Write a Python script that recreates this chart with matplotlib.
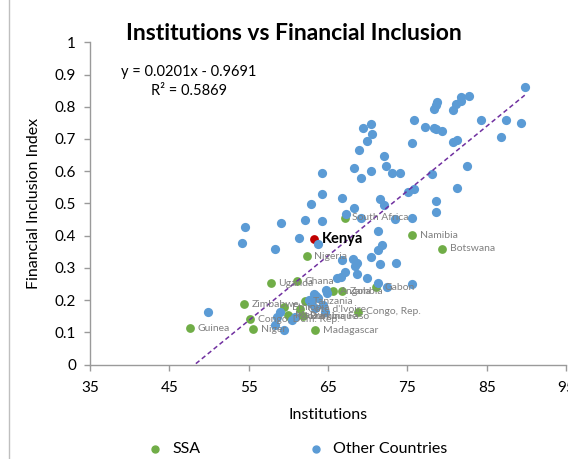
import matplotlib
matplotlib.use('Agg')
import matplotlib.pyplot as plt
from matplotlib.lines import Line2D

plt.rcParams['font.family'] = ['Lato', 'DejaVu Sans']

# ---------------- data ----------------
ssa_names = ['South Africa', 'Namibia', 'Botswana', 'Nigeria', 'Uganda', 'Ghana',
             'Angola', 'Zambia', 'Gabon', 'Zimbabwe', 'Tanzania', 'Guinea',
             'Congo, Dem. Rep.', 'Niger', 'Madagascar', 'Congo, Rep.', 'Ethiopia',
             "Cote d'Ivoire", 'Burkina Faso', 'Mozambique', 'Malawi']
ssa_x = [67.1, 75.6, 79.4, 62.3, 57.8, 61.1, 65.6, 66.8, 71.1, 54.4, 62.1, 47.6,
         55.2, 55.6, 63.4, 68.8, 59.5, 61.5, 61.8, 60.2, 59.9]
ssa_y = [0.456, 0.401, 0.359, 0.336, 0.252, 0.259, 0.228, 0.228, 0.239, 0.187, 0.197,
         0.112, 0.140, 0.110, 0.107, 0.164, 0.178, 0.172, 0.149, 0.148, 0.153]

kenya_name = 'Kenya'
kenya_x = [63.2]
kenya_y = [0.389]

other_x = [89.8, 82.8, 81.8, 81.8, 81.1, 80.8, 78.8, 78.6, 78.3, 75.8, 77.2, 78.3,
           78.6, 79.4, 84.3, 87.4, 89.3, 86.8, 75.6, 80.8, 81.3, 72.1, 72.3, 73.1,
           74.1, 82.5, 78.1, 70.4, 69.4, 70.6, 69.9, 68.9, 68.3, 70.4, 69.1, 64.2,
           64.2, 62.8, 66.8, 68.3, 71.6, 72.1, 67.3, 62.1, 64.2, 59.1, 54.6, 69.1,
           73.4, 75.6, 81.3, 75.1, 75.8, 78.6, 78.6, 71.3, 54.2, 58.3, 61.4, 63.7,
           71.8, 71.3, 66.8, 68.2, 68.7, 68.4, 70.4, 71.6, 73.6, 67.2, 68.6, 69.9,
           66.1, 66.6, 71.3, 72.4, 75.6, 64.7, 64.9, 63.2, 63.5, 63.8, 62.6, 62.8,
           64.4, 63.4, 59.0, 58.6, 60.9, 60.4, 64.6, 58.3, 59.5, 49.9]
other_y = [0.860, 0.832, 0.829, 0.818, 0.810, 0.791, 0.814, 0.804, 0.793, 0.758,
           0.736, 0.733, 0.732, 0.726, 0.758, 0.758, 0.751, 0.705, 0.689, 0.691,
           0.696, 0.647, 0.615, 0.595, 0.595, 0.615, 0.590, 0.746, 0.735, 0.716,
           0.695, 0.666, 0.610, 0.602, 0.580, 0.595, 0.530, 0.499, 0.517, 0.487,
           0.514, 0.494, 0.467, 0.447, 0.444, 0.439, 0.427, 0.454, 0.452, 0.454,
           0.548, 0.536, 0.544, 0.507, 0.474, 0.413, 0.378, 0.359, 0.394, 0.373,
           0.371, 0.354, 0.323, 0.328, 0.316, 0.305, 0.333, 0.311, 0.316, 0.286,
           0.281, 0.269, 0.268, 0.271, 0.252, 0.242, 0.250, 0.231, 0.221, 0.220,
           0.212, 0.205, 0.200, 0.190, 0.185, 0.174, 0.163, 0.148, 0.148, 0.138,
           0.162, 0.124, 0.107, 0.162]

trend_slope = 0.0201
trend_intercept = -0.9691
r_squared = 0.5869

x_ticks = [35, 45, 55, 65, 75, 85, 95]
y_ticks = [0, 0.1, 0.2, 0.3, 0.4, 0.5, 0.6, 0.7, 0.8, 0.9, 1]
y_tick_labels = ['0', '0.1', '0.2', '0.3', '0.4', '0.5', '0.6', '0.7', '0.8', '0.9', '1']

# ---------------- styling ----------------
GREEN = '#70AD47'
BLUE = '#5B9BD5'
RED = '#C00000'
PURPLE = '#7030A0'
AXIS = '#9a9a9a'
LABEL_GRAY = '#808080'

W, H = 568, 459
fig = plt.figure(figsize=(W / 100, H / 100), dpi=100)
ax = fig.add_axes([90 / W, 1 - 364.5 / H, (566 - 90) / W, (364.5 - 42.3) / H])
ax.set_facecolor('none')

ax.scatter(ssa_x, ssa_y, s=40, color=GREEN, linewidths=0, zorder=3)
ax.scatter(kenya_x, kenya_y, s=40, color=RED, linewidths=0, zorder=3)
ax.scatter(other_x, other_y, s=44, color=BLUE, linewidths=0, zorder=4)

# trendline across the data range
all_x = ssa_x + kenya_x + other_x
x0, x1 = min(all_x), max(all_x)
ax.plot([x0, x1], [trend_slope * x0 + trend_intercept, trend_slope * x1 + trend_intercept],
        color=PURPLE, lw=1.1, ls=(0, (3, 2)), zorder=5)

for name, x, y in zip(ssa_names, ssa_x, ssa_y):
    ax.annotate(name, (x, y), xytext=(5.5, 0), textcoords='offset points',
                va='center', ha='left', fontsize=7.5, color=LABEL_GRAY, zorder=6)
ax.annotate(kenya_name, (kenya_x[0], kenya_y[0]), xytext=(6, 0), textcoords='offset points',
            va='center', ha='left', fontsize=10.5, fontweight='bold', color='black', zorder=6)

ax.set_xlim(35, 95)
ax.set_ylim(0, 1)
ax.set_xticks(x_ticks)
ax.set_yticks(y_ticks)
ax.set_yticklabels(y_tick_labels)
for s in ['top', 'right']:
    ax.spines[s].set_visible(False)
for s in ['left', 'bottom']:
    ax.spines[s].set_color(AXIS)
    ax.spines[s].set_linewidth(1.0)
ax.tick_params(axis='both', direction='out', length=4, width=1.0, color=AXIS,
               labelsize=11, labelcolor='black')
ax.tick_params(axis='x', pad=8)
ax.tick_params(axis='y', pad=6)
ax.set_xlabel('Institutions', fontsize=11.5, labelpad=9)
ax.set_ylabel('Financial Inclusion Index', fontsize=11.5, labelpad=10)

fig.text(294 / W, 1 - 34 / H, 'Institutions vs Financial Inclusion', ha='center', va='center',
         fontsize=16.5, fontweight='bold', color='black')
fig.text(189 / W, 1 - 72 / H, f'y = {trend_slope:.4f}x - {abs(trend_intercept):.4f}',
         ha='center', va='center', fontsize=10.5)
fig.text(189 / W, 1 - 91 / H, f'R\u00b2 = {r_squared:.4f}', ha='center', va='center', fontsize=10.5)

# legend
fig.add_artist(Line2D([155 / W], [1 - 449 / H], marker='o', ms=5, color=GREEN, ls='none',
                      transform=fig.transFigure))
fig.text(172 / W, 1 - 449 / H, 'SSA', ha='left', va='center', fontsize=11.5)
fig.add_artist(Line2D([316 / W], [1 - 449 / H], marker='o', ms=5, color=BLUE, ls='none',
                      transform=fig.transFigure))
fig.text(333 / W, 1 - 449 / H, 'Other Countries', ha='left', va='center', fontsize=11.5)

# chart-area border on the left
fig.add_artist(Line2D([9 / W, 9 / W], [0, 1], color='#bfbfbf', lw=1, transform=fig.transFigure))

fig.savefig('out.png', dpi=100)
